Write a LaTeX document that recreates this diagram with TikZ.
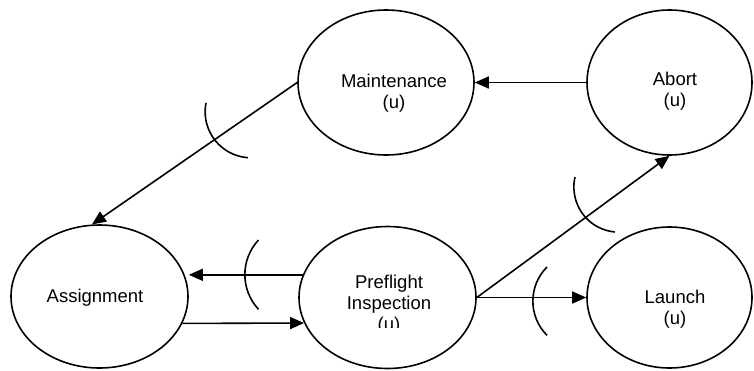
\documentclass[tikz,border=0pt]{standalone}
\usepackage{fontspec}
\setmainfont{Liberation Sans}
\usetikzlibrary{shapes.geometric, arrows.meta}

\begin{document}
\begin{tikzpicture} [
    x=1pt, y=-1pt,
    edge/.style={-{Triangle[length=14pt, width=12pt]}, line width=1.6pt},
    socket/.style={line width=1.6pt},
    stateNode/.style={ellipse, draw, line width=1.6pt, inner sep=0pt},
    stateText/.style={align=center, inner sep=0pt, anchor=base, font=\fontsize{18.5}{21}\selectfont}
]

\useasboundingbox (0, 0) rectangle (754, 370);

\node[stateNode, minimum width=176pt, minimum height=145pt] (maint) at (386, 82.5) {};
\node[stateText] (maintText) at (394, 108) {Maintenance\\(u)};

\node[stateNode, minimum width=165pt, minimum height=145pt] (abort) at (669.5, 82.5) {};
\node[stateText] (abortText) at (675, 106) {Abort\\(u)};

\draw[edge] (abort.west) -- (maint.east);

\node[stateNode, minimum width=177pt, minimum height=143pt] (assign) at (99.5, 296.5) {};
\node[stateText] (assignText) at (95, 302) {Assignment};

\draw[edge] (maint.west) -- (assign.96);

\node[stateNode, minimum width=177pt, minimum height=142pt] (pre) at (387.5, 297.5) {};
\begin{scope}
\clip (300, 255) rectangle (476, 327);
\node[stateText] (preText) at (389, 330) {Preflight\\Inspection\\(u)};
\end{scope}

\node[stateNode, minimum width=165pt, minimum height=141pt] (launch) at (669.5, 297.5) {};
\node[stateText] (launchText) at (675, 324) {Launch\\(u)};

\draw[edge] (pre.165) -- (pre.165 -| assign.east);
\draw[edge] (assign.342) -- (pre.197);
\draw[edge] (pre.east) -- (launch.west);
\draw[edge] (pre.east) -- (abort.south);

% sockets
\draw[socket] (206, 103) arc[start angle=191, end angle=94, radius=46];
\draw[socket] (258.5, 240) arc[start angle=223, end angle=137, radius=50.8];
\draw[socket] (547, 267) arc[start angle=225, end angle=135, radius=48.3];
\draw[socket] (575, 177) arc[start angle=193, end angle=95, radius=45];

\end{tikzpicture}
\end{document}
